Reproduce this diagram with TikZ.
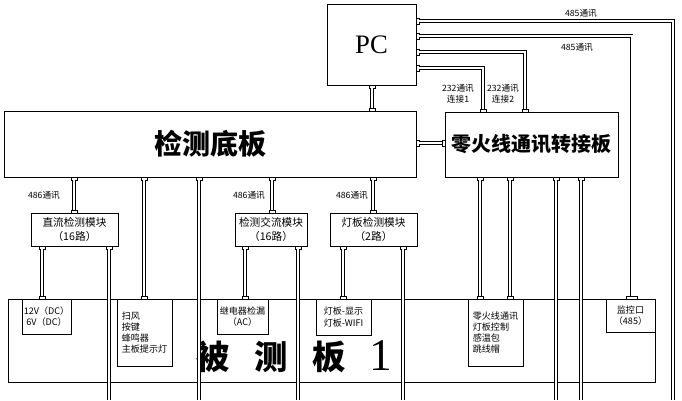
\documentclass[tikz,border=0pt]{standalone}
\usepackage{fontspec}
\setmainfont{Liberation Serif}
\newfontfamily\cjk{Noto Sans CJK SC}
\begin{document}
\begin{tikzpicture}[x=0.75pt,y=-0.75pt,
  box/.style={draw,line width=0.6pt,inner sep=0pt,align=center},
  modl/.style={box,minimum height=24.75pt,font=\cjk\fontsize{8}{10}\selectfont},
  sub/.style={box,font=\cjk\fontsize{6.8}{8.4}\selectfont},
  port/.style={draw,fill=white,line width=0.4pt,inner sep=0pt,minimum width=4.5pt,minimum height=2.4pt},
  vport/.style={port,minimum width=2.4pt,minimum height=4.5pt},
  wire/.style={double,double distance=1.5pt,line width=0.6pt},
  lbl/.style={font=\cjk\fontsize{6.5}{8.2}\selectfont,inner sep=0pt,align=center}]
\useasboundingbox (0,0) rectangle (682,400);

\node[box,minimum width=66.75pt,minimum height=60.75pt,font=\fontsize{20}{20}\selectfont] (pc) at (371.5,44.5) {PC};
\node[box,minimum width=309pt,minimum height=49.5pt,font=\cjk\bfseries\fontsize{21}{21}\selectfont] (base) at (210,144) {检测底板};
\node[box,minimum width=129.75pt,minimum height=48.75pt,font=\cjk\bfseries\fontsize{15}{15}\selectfont] (zero) at (531.5,144.5) {零火线通讯转接板};

\node[modl,minimum width=65.25pt] (dcm) at (74.5,229.5) {直流检测模块\\（16路）};
\node[modl,minimum width=54pt] (acm) at (271,229.5) {检测交流模块\\（16路）};
\node[modl,minimum width=65.25pt] (lmm) at (373.5,229.5) {灯板检测模块\\（2路）};

\node[box,minimum width=485.25pt,minimum height=62.25pt] (dut) at (331.5,340.5) {};
\node[font=\fontsize{25}{25}\selectfont] (dutname) at (294,357) {{\cjk\bfseries 被\hspace{.75em}测\hspace{.75em}板}\hspace{.7em}\raisebox{-0.5pt}{\fontsize{34}{34}\selectfont 1}};

\node[sub,minimum width=36.75pt,minimum height=26.25pt] (dcv) at (46.5,316.5) {12V（DC）\\6V（DC）};
\node[sub,minimum width=41.25pt,minimum height=50.25pt,align=left] (keys) at (144.5,332.5) {扫风\\按键\\蜂鸣器\\主板提示灯};
\node[sub,minimum width=38.25pt,minimum height=26.25pt] (relay) at (242.5,316.5) {继电器检漏\\（AC）};
\node[sub,minimum width=41.25pt,minimum height=27pt] (disp) at (343.5,317) {灯板-显示\\灯板-WIFI};
\node[sub,minimum width=41.25pt,minimum height=50.25pt,align=left] (lnk) at (495.5,332.5) {零火线通讯\\灯板控制\\感温包\\跳线帽};
\node[sub,minimum width=36.75pt,minimum height=24.75pt] (mon) at (630.5,315.5) {监控口\\（485）};

\node[vport] (pcr1) at (417.5,21) {};
\node[vport] (pcr2) at (417.5,36) {};
\node[vport] (pcr3) at (417.5,52) {};
\node[vport] (pcr4) at (417.5,68) {};
\node[port] (pcb) at (372,86.5) {};
\node[port] (bt) at (372,109.5) {};
\node[vport] (br) at (417.5,143) {};
\node[vport] (zl) at (443.5,143) {};
\node[port] (zt1) at (483,110.5) {};
\node[port] (zt2) at (525,110.5) {};

\node[port] (bb1) at (74,178.5) {};
\node[port] (bb2) at (144,178.5) {};
\node[port] (bb3) at (199,178.5) {};
\node[port] (bb4) at (272,178.5) {};
\node[port] (bb5) at (373,178.5) {};
\node[port] (zb1) at (480,178.5) {};
\node[port] (zb2) at (510,178.5) {};
\node[port] (zb3) at (556,178.5) {};
\node[port] (zb4) at (581,178.5) {};

\node[port] (dct) at (74,211.5) {};
\node[port] (act) at (272,211.5) {};
\node[port] (lmt) at (373,211.5) {};
\node[port] (dcb1) at (42,247.5) {};
\node[port] (dcb2) at (109,247.5) {};
\node[port] (acb1) at (245,247.5) {};
\node[port] (acb2) at (298,247.5) {};
\node[port] (lmb1) at (343,247.5) {};
\node[port] (lmb2) at (403,247.5) {};

\node[port] (sdc) at (42,297.5) {};
\node[port] (skey) at (144,297.5) {};
\node[port] (srel) at (245,297.5) {};
\node[port] (sdisp) at (343,297.5) {};
\node[port] (slnk1) at (480,297.5) {};
\node[port] (slnk2) at (510,297.5) {};
\node[port,minimum width=8pt] (smon) at (631.5,297.5) {};

\coordinate (e1) at (109,400);
\coordinate (e2) at (199,400);
\coordinate (e3) at (298,400);
\coordinate (e4) at (403,400);
\coordinate (e5) at (556,400);
\coordinate (e6) at (581,400);
\coordinate (e7) at (673,400);

\draw[wire] (pcr1.east) -| (e7);
\draw[wire] (pcr2.east) -| (smon.north);
\draw[wire] (pcr3.east) -| (zt2.north);
\draw[wire] (pcr4.east) -| (zt1.north);
\draw[wire] (pcb.south) -- (bt.north);
\draw[wire] (br.east) -- (zl.west);

\draw[wire] (bb1.south) -- (dct.north);
\draw[wire] (bb2.south) -- (skey.north);
\draw[wire] (bb3.south) -- (e2);
\draw[wire] (bb4.south) -- (act.north);
\draw[wire] (bb5.south) -- (lmt.north);
\draw[wire] (zb1.south) -- (slnk1.north);
\draw[wire] (zb2.south) -- (slnk2.north);
\draw[wire] (zb3.south) -- (e5);
\draw[wire] (zb4.south) -- (e6);

\draw[wire] (dcb1.south) -- (sdc.north);
\draw[wire] (dcb2.south) -- (e1);
\draw[wire] (acb1.south) -- (srel.north);
\draw[wire] (acb2.south) -- (e3);
\draw[wire] (lmb1.south) -- (sdisp.north);
\draw[wire] (lmb2.south) -- (e4);

\node[lbl] (t485a) at (581,13) {485通讯};
\node[lbl] (t485b) at (577,47) {485通讯};
\node[lbl] (t232a) at (458,93.5) {232通讯\\连接1};
\node[lbl] (t232b) at (503,93.5) {232通讯\\连接2};
\node[lbl] (t486a) at (44,195) {486通讯};
\node[lbl] (t486b) at (249,195) {486通讯};
\node[lbl] (t486c) at (352,195) {486通讯};
\end{tikzpicture}
\end{document}
